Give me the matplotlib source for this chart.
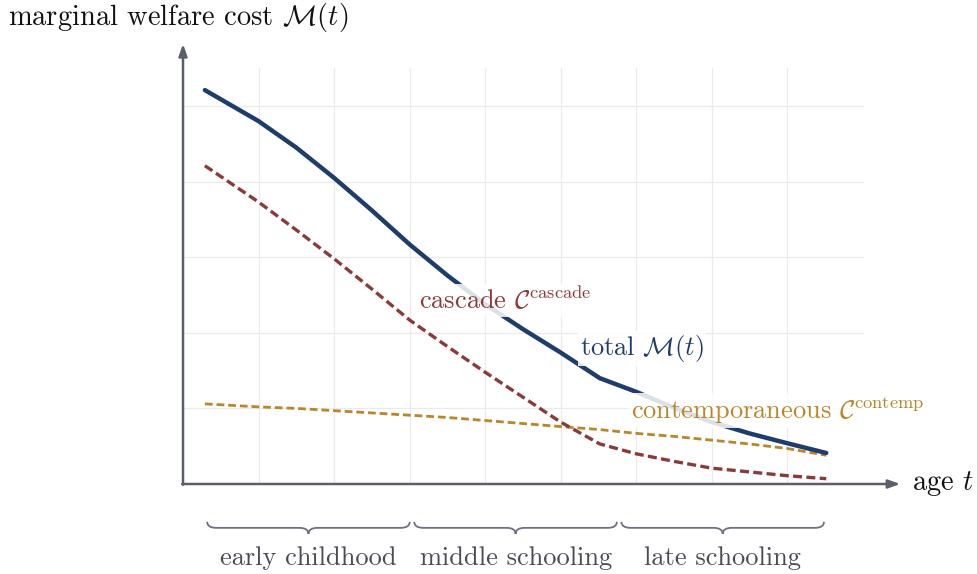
import matplotlib.pyplot as plt
import numpy as np
from matplotlib.path import Path
from matplotlib.patches import PathPatch

plt.rcParams["font.family"] = "serif"
plt.rcParams["font.serif"] = ["cmr10", "DejaVu Serif"]
plt.rcParams["mathtext.fontset"] = "cm"
plt.rcParams["axes.formatter.use_mathtext"] = True

# values (grid units)
age = [0.29, 1.0, 1.5, 2.0, 2.5, 3.0, 3.5, 4.0, 4.5, 5.0, 5.52, 6.0, 6.5, 7.0, 7.5, 8.0, 8.52]
total = [5.21, 4.80, 4.45, 4.05, 3.62, 3.17, 2.76, 2.38, 2.05, 1.74, 1.40,
         1.22, 1.01, 0.82, 0.67, 0.54, 0.41]
cascade = [4.21, 3.73, 3.36, 2.98, 2.58, 2.17, 1.82, 1.48, 1.15, 0.82, 0.53,
           0.40, 0.30, 0.21, 0.16, 0.11, 0.07]
contemp = [1.06, 1.02, 1.00, 0.97, 0.94, 0.91, 0.88, 0.84, 0.80, 0.76, 0.72,
           0.67, 0.63, 0.58, 0.53, 0.47, 0.38]
stages = ["early childhood", "middle schooling", "late schooling"]

BLUE = "#1f3d6b"
RED = "#8b3a3a"
GOLD = "#b8862b"
AX = "#5b5e6b"

fig = plt.figure(figsize=(9.77, 5.74), dpi=100)
ax = fig.add_axes([183 / 977, 90 / 574, 717.25 / 977, 438.5 / 574])
ax.set_xlim(0, 9.5)
ax.set_ylim(0, 5.8)
ax.axis("off")

# grid
for gx in range(1, 9):
    ax.plot([gx, gx], [0, 5.5], color="#ebebeb", lw=0.9, zorder=0)
for gy in range(1, 6):
    ax.plot([0, 9], [gy, gy], color="#ebebeb", lw=0.9, zorder=0)

# axes with arrows
arrow = dict(arrowstyle="-|>,head_length=0.7,head_width=0.25", color=AX, lw=1.8,
             shrinkA=0, shrinkB=0)
ax.annotate("", xy=(9.5, 0), xytext=(-0.01, 0), arrowprops=arrow, annotation_clip=False)
ax.annotate("", xy=(0, 5.82), xytext=(0, -0.01), arrowprops=arrow, annotation_clip=False)

ax.plot(age, contemp, color=GOLD, lw=2.0, dashes=(2.8, 1.4), zorder=3)
ax.plot(age, cascade, color=RED, lw=2.4, dashes=(2.7, 1.3), zorder=3)
ax.plot(age, total, color=BLUE, lw=3.2, solid_capstyle="round", zorder=3)

box = dict(facecolor="white", edgecolor="none", alpha=0.85, pad=1.5)
ax.text(4.27, 2.43, r"cascade $\mathcal{C}^{\mathrm{cascade}}$", color=RED, fontsize=19,
        ha="center", va="center", bbox=box, zorder=4)
ax.text(6.08, 1.79, r"total $\mathcal{M}(t)$", color=BLUE, fontsize=19,
        ha="center", va="center", bbox=box, zorder=4)
ax.text(7.87, 0.97, r"contemporaneous $\mathcal{C}^{\mathrm{contemp}}$", color=GOLD, fontsize=19,
        ha="center", va="center", bbox=box, zorder=4)

fig.text(8 / 977, 1 - 18 / 574, r"marginal welfare cost $\mathcal{M}(t)$", fontsize=20.5,
         ha="left", va="center", color="#111111")
ax.text(9.66, 0, r"age $t$", fontsize=20.5, ha="left", va="center", color="#111111",
        clip_on=False)


def brace(x0, x1, ytop, h):
    # horizontal curly brace, tip pointing down
    xm = (x0 + x1) / 2
    q = h / 2
    r = 0.12
    verts = [
        (x0, ytop),
        (x0, ytop - q), (x0 + r, ytop - q),
        (xm - r, ytop - q),
        (xm, ytop - q), (xm, ytop - h),
        (xm, ytop - q), (xm + r, ytop - q),
        (x1 - r, ytop - q),
        (x1, ytop - q), (x1, ytop),
    ]
    codes = [Path.MOVETO,
             Path.CURVE3, Path.CURVE3,
             Path.LINETO,
             Path.CURVE3, Path.CURVE3,
             Path.CURVE3, Path.CURVE3,
             Path.LINETO,
             Path.CURVE3, Path.CURVE3]
    ax.add_patch(PathPatch(Path(verts, codes), fill=False, edgecolor="#6e7180",
                           lw=1.3, clip_on=False))


edges = np.linspace(age[0], age[-1], 4)
for i, name in enumerate(stages):
    a, b = edges[i] + 0.03, edges[i + 1] - 0.03
    brace(a, b, -0.5, 0.16)
    ax.text((a + b) / 2, -0.98, name, fontsize=19, ha="center", va="center",
            color="#4a4c55", clip_on=False)

fig.savefig("out.png", dpi=100)
